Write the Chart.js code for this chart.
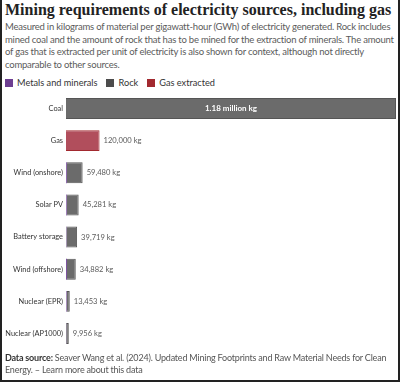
<!DOCTYPE html>
<html>
<head>
<meta charset="utf-8">
<script src="https://cdn.jsdelivr.net/npm/chart.js@4"></script>
<style>
  body { margin: 0; background: #fff; }
  #wrap { position: relative; width: 400px; height: 382px; overflow: hidden; font-family: Lato, sans-serif; }
  #frame { position: absolute; left: 0; top: 0; width: 396px; height: 380px; border-left: 2px solid #222; border-right: 2px solid #222; border-bottom: 2px solid #222; pointer-events: none; z-index: 5; }
  #title { position: absolute; left: 5px; top: 1px; font-family: "Liberation Serif", serif; font-weight: bold; font-size: 16px; color: #222; white-space: nowrap; }
  #subtitle { position: absolute; left: 5px; top: 21px; width: 392px; font-size: 9.5px; letter-spacing: -0.22px; line-height: 12.7px; color: #5b5b5b; }
  #legend { position: absolute; left: 5px; top: 77px; font-size: 9.2px; color: #333; display: flex; gap: 9px; }
  #legend span.sw { display: inline-block; width: 8px; height: 8px; margin-right: 4px; vertical-align: -1px; }
  #footer { position: absolute; left: 5px; top: 352px; width: 385px; font-size: 9px; letter-spacing: -0.2px; line-height: 12px; color: #555; }
  #footer b { color: #333; }
  #chart { position: absolute; left: 0; top: 85px; }
</style>
</head>
<body>
<div id="wrap">
  <div id="frame"></div>
  <div id="title">Mining requirements of electricity sources, including gas</div>
  <div id="subtitle">Measured in kilograms of material per gigawatt-hour (GWh) of electricity generated. Rock includes mined coal and the amount of rock that has to be mined for the extraction of minerals. The amount of gas that is extracted per unit of electricity is also shown for context, although not directly comparable to other sources.</div>
  <div id="legend">
    <div><span class="sw" style="background:#6d3e91"></span>Metals and minerals</div>
    <div><span class="sw" style="background:#4c4c4c"></span>Rock</div>
    <div><span class="sw" style="background:#a2292f"></span>Gas extracted</div>
  </div>
  <canvas id="chart" width="396" height="272"></canvas>
  <div id="footer"><b>Data source:</b> Seaver Wang et al. (2024). Updated Mining Footprints and Raw Material Needs for Clean Energy. – Learn more about this data</div>
</div>
<script>
const categories = ["Coal", "Gas", "Wind (onshore)", "Solar PV", "Battery storage", "Wind (offshore)", "Nuclear (EPR)", "Nuclear (AP1000)"];
// kg per GWh
const metals = [0, 0, 3000, 2500, 1200, 3500, 2000, 600];
const rock = [1180000, 0, 56480, 42781, 38519, 31382, 11453, 9356];
const gasExtracted = [0, 120000, 0, 0, 0, 0, 0, 0];

function formatKg(v) {
  if (v >= 1e6) return (v / 1e6).toFixed(2) + " million kg";
  return Math.round(v).toLocaleString("en-US") + " kg";
}

// etiquetas de totales al final de cada barra
const totalLabels = {
  id: "totalLabels",
  afterDatasetsDraw(chart) {
    const ctx = chart.ctx;
    const x = chart.scales.x;
    const y = chart.scales.y;
    ctx.save();
    ctx.textBaseline = "middle";
    categories.forEach((c, i) => {
      const total = metals[i] + rock[i] + gasExtracted[i];
      const end = x.getPixelForValue(total);
      const yc = y.getPixelForValue(i);
      if (end > chart.chartArea.right - 60) {
        ctx.fillStyle = "#fff";
        ctx.font = "bold 8px Lato";
        ctx.textAlign = "center";
        ctx.fillText(formatKg(total), (x.getPixelForValue(0) + end) / 2, yc);
      } else {
        ctx.fillStyle = "#5b5b5b";
        ctx.font = "7.6px Lato";
        ctx.textAlign = "left";
        ctx.fillText(formatKg(total), end + 4, yc);
      }
    });
    ctx.restore();
  }
};

new Chart(document.getElementById("chart"), {
  type: "bar",
  data: {
    labels: categories,
    datasets: [
      { label: "Metals and minerals", data: metals, backgroundColor: "#7a4f9e", borderWidth: 0 },
      { label: "Rock", data: rock, backgroundColor: "#6b6b6b", borderColor: "#555", borderWidth: { right: 1, top: 1, bottom: 1 } },
      { label: "Gas extracted", data: gasExtracted, backgroundColor: "#b14e5c", borderColor: "#a2292f", borderWidth: { right: 1, top: 1, bottom: 1 } }
    ]
  },
  options: {
    indexAxis: "y",
    responsive: false,
    animation: false,
    layout: { padding: 0 },
    plugins: { legend: { display: false }, tooltip: { enabled: false } },
    datasets: { bar: { categoryPercentage: 1, barPercentage: 0.65 } },
    scales: {
      x: {
        stacked: true, min: 0, max: 1180000, display: false
      },
      y: {
        stacked: true,
        grid: { display: false, drawTicks: false },
        border: { display: false },
        ticks: { color: "#333", font: { family: "Lato", size: 7.4 }, padding: 3 },
        afterFit(scale) { scale.width = 66; }
      }
    }
  },
  plugins: [totalLabels]
});
</script>
</body>
</html>
